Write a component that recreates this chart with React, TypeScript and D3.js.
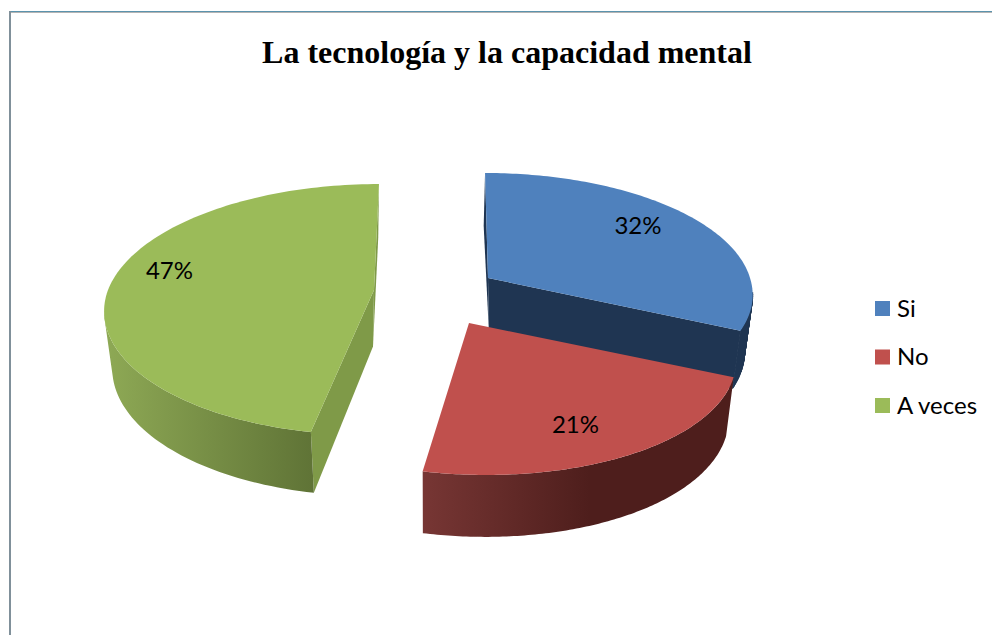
import React from "react";
import * as d3 from "d3";

const categories = ["Si", "No", "A veces"];
const values = [32, 21, 47];
const labels = ["32%", "21%", "47%"];
const title = "La tecnología y la capacidad mental";
const topColors = ["#4f81bd", "#c0504d", "#9bbb59"];
const innerColors = ["#1f3552", "#4f1f1d", "#7f9a48"];

// layout of the exploded 3D pie (per slice)
const apexX = [488, 469, 374];
const apexY = [278, 323, 290];
const radiusX = [262, 254.8, 266];
const radiusY = [117.6, 113.5, 122.5];
const persp = [0.12, 0.253, 0.156];
const shearBack = [0.028, 0.116, -0.047];
const shearFront = [0.05, 0.116, -0.03];
const apexDropDx = [1, 0, -1];
const firstDropDx = [0, 0, -2];
const labelX = [638, 575.5, 169.5];
const labelY = [226, 425, 271];
const VCX = 430;

type P = [number, number];

function project(i: number, theta: number, r = 1): P {
  const u = r * Math.sin(theta);
  const v = -r * Math.cos(theta);
  const w = 1 - persp[i] * v;
  const ly = (radiusY[i] * v) / w;
  const sh = ly < 0 ? shearBack[i] : shearFront[i];
  return [apexX[i] + (radiusX[i] * u) / w + sh * ly, apexY[i] + ly];
}
function drop(p: P): P {
  return [VCX + (p[0] - VCX) * 0.975, p[1] + 57 + (p[1] - 310) * 0.03];
}
function oriented(q: P[]): P[] {
  return (d3.polygonArea(q) < 0 ? q.slice().reverse() : q);
}

const line = d3.line<P>().curve(d3.curveLinear);

export default function App() {
  const pie = d3.pie<number>().sort(null)(values);
  const legendY = d3.scalePoint<string>().domain(categories).range([308.5, 405.5]);

  const slices = pie.map((s, i) => {
    const n = 120;
    const thetas = d3.range(n + 1).map((k) => s.startAngle + ((s.endAngle - s.startAngle) * k) / n);
    const rim: P[] = thetas.map((t) => project(i, t));
    const apex = project(i, 0, 0);
    const top = line([apex, ...rim])! + "Z";
    const apexDrop: P = [apex[0] + apexDropDx[i], drop(apex)[1]];
    // outer wall: only the part of the rim that faces the viewer
    const front = d3.range(n).filter((k) => -Math.cos(thetas[k]) > persp[i] && -Math.cos(thetas[k + 1]) > persp[i]);
    const outer = front
      .map((k) => line(oriented([rim[k], rim[k + 1], drop(rim[k + 1]), drop(rim[k])]))! + "Z")
      .join("");
    const first = i === 2 ? rim[n] : rim[0];
    const last = i === 2 ? rim[0] : rim[n];
    const fd = drop(first);
    const firstDrop: P = [fd[0] + firstDropDx[i], fd[1]];
    const backWall = line([apex, first, firstDrop, apexDrop])! + "Z";
    const sideWall = line([apex, last, drop(last), apexDrop])! + "Z";
    return { i, top, outer, backWall, sideWall };
  });

  const outerFill = ["#1f3552", "url(#gRed)", "url(#gGreen)"];

  return (
    <svg
      width={992}
      height={635}
      style={{ position: "absolute", left: 0, top: 0, background: "#fff" }}
    >
      <defs>
        <linearGradient id="gRed" gradientUnits="userSpaceOnUse" x1={423} x2={590} y1={0} y2={0}>
          <stop offset="0" stopColor="#773634" />
          <stop offset="1" stopColor="#4e1e1c" />
        </linearGradient>
        <linearGradient id="gGreen" gradientUnits="userSpaceOnUse" x1={105} x2={315} y1={0} y2={0}>
          <stop offset="0" stopColor="#8ea955" />
          <stop offset="1" stopColor="#5f7336" />
        </linearGradient>
      </defs>
      <rect x={9} y={11} width={983} height={1} fill="#5b93ad" />
      <rect x={10} y={12} width={982} height={1} fill="#b4b4b4" />
      <rect x={9} y={11} width={2} height={624} fill="#80909a" />
      <text
        x={507}
        y={63}
        textAnchor="middle"
        fontFamily="'Liberation Serif', serif"
        fontWeight="bold"
        fontSize={32}
        fill="#000"
      >
        {title}
      </text>
      {slices.map(({ i, top, outer, backWall, sideWall }) => (
        <g key={categories[i]}>
          {i !== 1 && <path d={backWall} fill={innerColors[i]} />}
          {i !== 1 && <path d={sideWall} fill={innerColors[i]} />}
          <path d={outer} fill={outerFill[i]} stroke={i === 0 ? outerFill[i] : "none"} strokeWidth={1} />
          <path d={top} fill={topColors[i]} />
        </g>
      ))}
      {labels.map((l, i) => (
        <text
          key={l}
          x={labelX[i]}
          y={labelY[i]}
          dy="0.35em"
          textAnchor="middle"
          fontFamily="Lato, sans-serif"
          fontSize={24}
          fill="#000"
        >
          {l}
        </text>
      ))}
      {categories.map((c, i) => (
        <g key={c}>
          <rect x={875} y={legendY(c)! - 7.5} width={15} height={15} fill={topColors[i]} />
          <text
            x={897}
            y={legendY(c)!}
            dy="0.35em"
            fontFamily="Lato, sans-serif"
            fontSize={24}
            fill="#000"
          >
            {c}
          </text>
        </g>
      ))}
    </svg>
  );
}
